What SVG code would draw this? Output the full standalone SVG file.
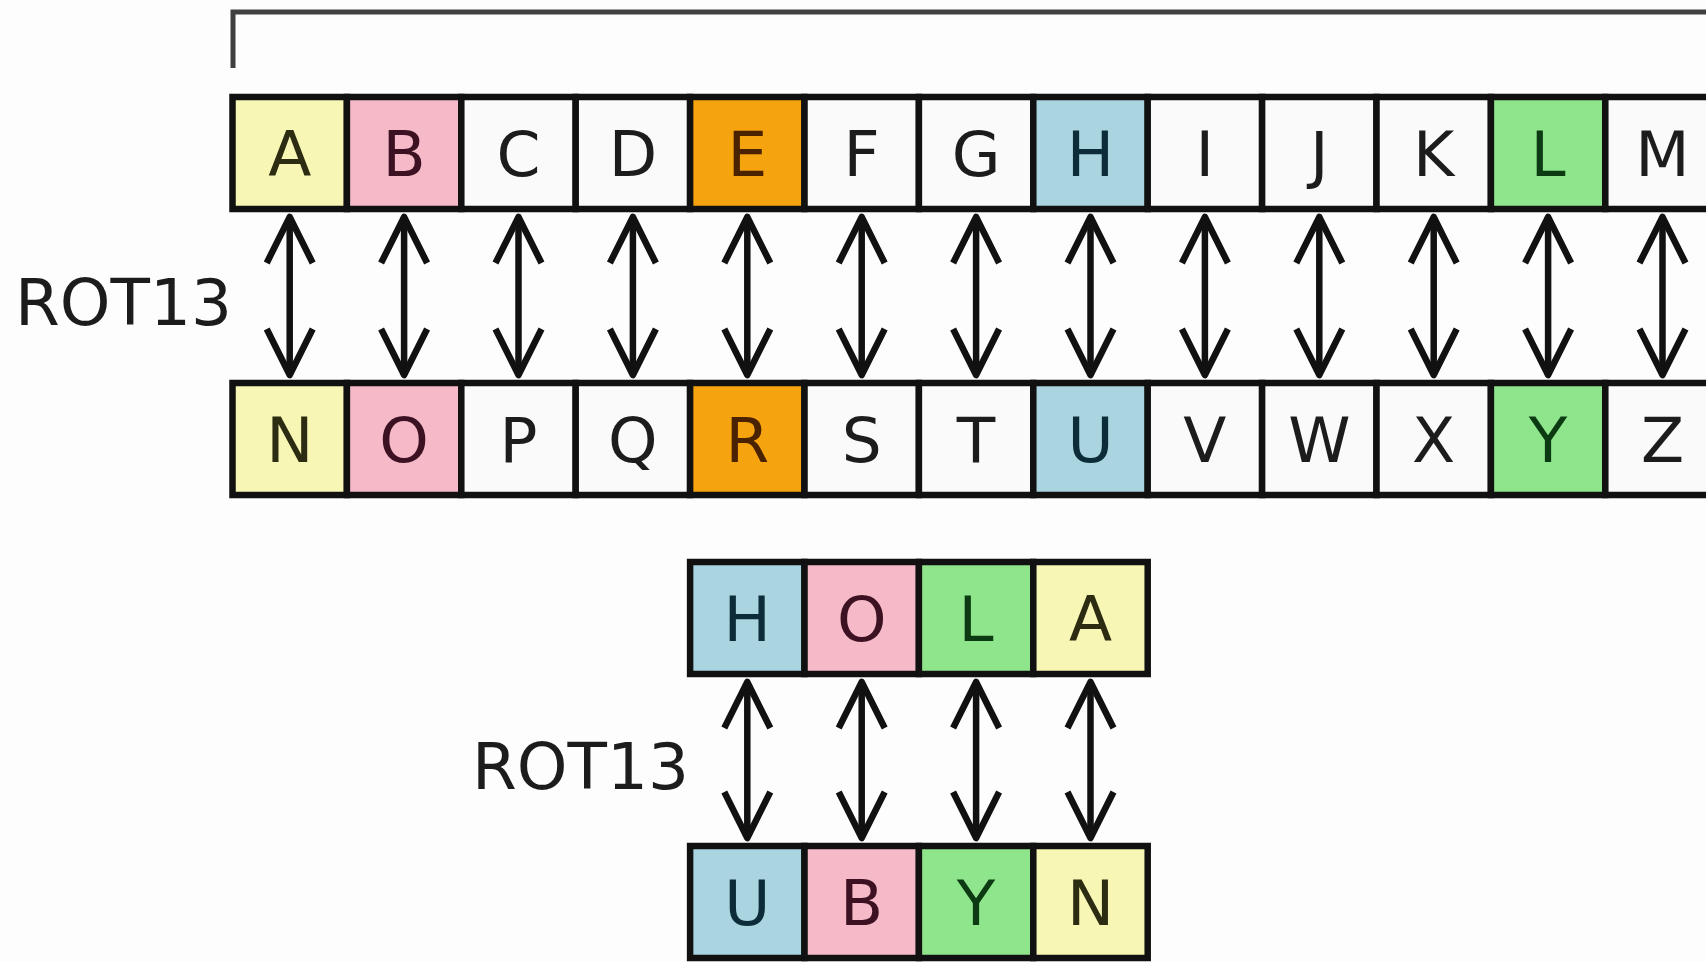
<svg xmlns="http://www.w3.org/2000/svg" width="1706" height="962" viewBox="0 0 1706 962">
  <defs>
    <style>
      .cell { stroke: #111; stroke-width: 6.5; }
      .w { fill: #fafafa; }
      .y { fill: #f7f6b4; }
      .p { fill: #f5b9c8; }
      .o { fill: #f5a30f; }
      .b { fill: #a9d4e0; }
      .g { fill: #8fe58b; }
      .t { font-family: "DejaVu Sans", Verdana, sans-serif; font-size: 63px; text-anchor: middle; fill: #1c1c1c; }
      .ty { fill: #2c2c12; }
      .tp { fill: #3c1222; }
      .to { fill: #4a2200; }
      .tb { fill: #0c2c3a; }
      .tg { fill: #0c3a12; }
      .label { font-family: "DejaVu Sans", Verdana, sans-serif; font-size: 64.5px; fill: #1c1c1c; }
      .arrow { stroke: #111; stroke-width: 6.5; fill: none; marker-start: url(#head); marker-end: url(#head); }
    </style>
    <marker id="head" viewBox="-50 -27 55 54" refX="0" refY="0" markerWidth="55" markerHeight="54" markerUnits="userSpaceOnUse" orient="auto-start-reverse">
      <path d="M-46 -23 L0 0 L-46 23" fill="none" stroke="#111" stroke-width="6.5" stroke-linejoin="round"/>
    </marker>
  </defs>

  <rect width="1706" height="962" fill="#fdfdfd"/>

  <!-- bracket over the alphabet -->
  <path id="bracket" d="M233 68 V12 H1706" fill="none" stroke="#404040" stroke-width="5"/>

  <!-- labels -->
  <text id="label-top" class="label" x="15" y="325">ROT13</text>
  <text id="label-bottom" class="label" x="472" y="789">ROT13</text>

  <!-- alphabet, first half -->
  <g id="cell-A"><rect class="cell y" x="232.5" y="97" width="114.4" height="112"/><text class="t ty" x="289.7" y="175.5">A</text></g>
  <g id="cell-B"><rect class="cell p" x="346.9" y="97" width="114.4" height="112"/><text class="t tp" x="404.1" y="175.5">B</text></g>
  <g id="cell-C"><rect class="cell w" x="461.3" y="97" width="114.4" height="112"/><text class="t" x="518.5" y="175.5">C</text></g>
  <g id="cell-D"><rect class="cell w" x="575.7" y="97" width="114.4" height="112"/><text class="t" x="632.9" y="175.5">D</text></g>
  <g id="cell-E"><rect class="cell o" x="690.1" y="97" width="114.4" height="112"/><text class="t to" x="747.3" y="175.5">E</text></g>
  <g id="cell-F"><rect class="cell w" x="804.5" y="97" width="114.4" height="112"/><text class="t" x="861.7" y="175.5">F</text></g>
  <g id="cell-G"><rect class="cell w" x="918.9" y="97" width="114.4" height="112"/><text class="t" x="976.1" y="175.5">G</text></g>
  <g id="cell-H"><rect class="cell b" x="1033.3" y="97" width="114.4" height="112"/><text class="t tb" x="1090.5" y="175.5">H</text></g>
  <g id="cell-I"><rect class="cell w" x="1147.7" y="97" width="114.4" height="112"/><text class="t" x="1204.9" y="175.5">I</text></g>
  <g id="cell-J"><rect class="cell w" x="1262.1" y="97" width="114.4" height="112"/><text class="t" x="1319.3" y="175.5">J</text></g>
  <g id="cell-K"><rect class="cell w" x="1376.5" y="97" width="114.4" height="112"/><text class="t" x="1433.7" y="175.5">K</text></g>
  <g id="cell-L"><rect class="cell g" x="1490.9" y="97" width="114.4" height="112"/><text class="t tg" x="1548.1" y="175.5">L</text></g>
  <g id="cell-M"><rect class="cell w" x="1605.3" y="97" width="114.4" height="112"/><text class="t" x="1662.5" y="175.5">M</text></g>

  <!-- alphabet, second half -->
  <g id="cell-N"><rect class="cell y" x="232.5" y="383" width="114.4" height="112"/><text class="t ty" x="289.7" y="461.5">N</text></g>
  <g id="cell-O"><rect class="cell p" x="346.9" y="383" width="114.4" height="112"/><text class="t tp" x="404.1" y="461.5">O</text></g>
  <g id="cell-P"><rect class="cell w" x="461.3" y="383" width="114.4" height="112"/><text class="t" x="518.5" y="461.5">P</text></g>
  <g id="cell-Q"><rect class="cell w" x="575.7" y="383" width="114.4" height="112"/><text class="t" x="632.9" y="461.5">Q</text></g>
  <g id="cell-R"><rect class="cell o" x="690.1" y="383" width="114.4" height="112"/><text class="t to" x="747.3" y="461.5">R</text></g>
  <g id="cell-S"><rect class="cell w" x="804.5" y="383" width="114.4" height="112"/><text class="t" x="861.7" y="461.5">S</text></g>
  <g id="cell-T"><rect class="cell w" x="918.9" y="383" width="114.4" height="112"/><text class="t" x="976.1" y="461.5">T</text></g>
  <g id="cell-U"><rect class="cell b" x="1033.3" y="383" width="114.4" height="112"/><text class="t tb" x="1090.5" y="461.5">U</text></g>
  <g id="cell-V"><rect class="cell w" x="1147.7" y="383" width="114.4" height="112"/><text class="t" x="1204.9" y="461.5">V</text></g>
  <g id="cell-W"><rect class="cell w" x="1262.1" y="383" width="114.4" height="112"/><text class="t" x="1319.3" y="461.5">W</text></g>
  <g id="cell-X"><rect class="cell w" x="1376.5" y="383" width="114.4" height="112"/><text class="t" x="1433.7" y="461.5">X</text></g>
  <g id="cell-Y"><rect class="cell g" x="1490.9" y="383" width="114.4" height="112"/><text class="t tg" x="1548.1" y="461.5">Y</text></g>
  <g id="cell-Z"><rect class="cell w" x="1605.3" y="383" width="114.4" height="112"/><text class="t" x="1662.5" y="461.5">Z</text></g>

  <!-- example word -->
  <g id="word-H"><rect class="cell b" x="690.1" y="562" width="114.4" height="112"/><text class="t tb" x="747.3" y="640.5">H</text></g>
  <g id="word-O"><rect class="cell p" x="804.5" y="562" width="114.4" height="112"/><text class="t tp" x="861.7" y="640.5">O</text></g>
  <g id="word-L"><rect class="cell g" x="918.9" y="562" width="114.4" height="112"/><text class="t tg" x="976.1" y="640.5">L</text></g>
  <g id="word-A"><rect class="cell y" x="1033.3" y="562" width="114.4" height="112"/><text class="t ty" x="1090.5" y="640.5">A</text></g>

  <!-- encoded word -->
  <g id="code-U"><rect class="cell b" x="690.1" y="846" width="114.4" height="112"/><text class="t tb" x="747.3" y="924.5">U</text></g>
  <g id="code-B"><rect class="cell p" x="804.5" y="846" width="114.4" height="112"/><text class="t tp" x="861.7" y="924.5">B</text></g>
  <g id="code-Y"><rect class="cell g" x="918.9" y="846" width="114.4" height="112"/><text class="t tg" x="976.1" y="924.5">Y</text></g>
  <g id="code-N"><rect class="cell y" x="1033.3" y="846" width="114.4" height="112"/><text class="t ty" x="1090.5" y="924.5">N</text></g>

  <!-- two-way arrows -->
  <g id="connectors">
    <line class="arrow" x1="289.7" y1="217" x2="289.7" y2="375"/>
    <line class="arrow" x1="404.1" y1="217" x2="404.1" y2="375"/>
    <line class="arrow" x1="518.5" y1="217" x2="518.5" y2="375"/>
    <line class="arrow" x1="632.9" y1="217" x2="632.9" y2="375"/>
    <line class="arrow" x1="747.3" y1="217" x2="747.3" y2="375"/>
    <line class="arrow" x1="861.7" y1="217" x2="861.7" y2="375"/>
    <line class="arrow" x1="976.1" y1="217" x2="976.1" y2="375"/>
    <line class="arrow" x1="1090.5" y1="217" x2="1090.5" y2="375"/>
    <line class="arrow" x1="1204.9" y1="217" x2="1204.9" y2="375"/>
    <line class="arrow" x1="1319.3" y1="217" x2="1319.3" y2="375"/>
    <line class="arrow" x1="1433.7" y1="217" x2="1433.7" y2="375"/>
    <line class="arrow" x1="1548.1" y1="217" x2="1548.1" y2="375"/>
    <line class="arrow" x1="1662.5" y1="217" x2="1662.5" y2="375"/>

    <line class="arrow" x1="747.3" y1="682" x2="747.3" y2="838"/>
    <line class="arrow" x1="861.7" y1="682" x2="861.7" y2="838"/>
    <line class="arrow" x1="976.1" y1="682" x2="976.1" y2="838"/>
    <line class="arrow" x1="1090.5" y1="682" x2="1090.5" y2="838"/>
  </g>
</svg>
